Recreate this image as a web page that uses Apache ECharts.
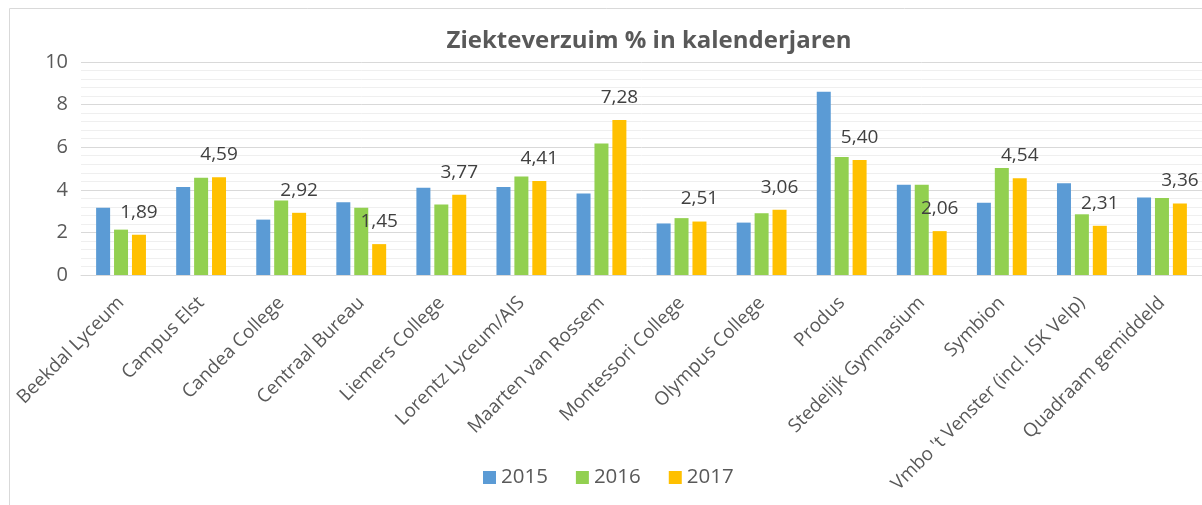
<!DOCTYPE html>
<html>
<head>
<meta charset="utf-8">
<script src="https://cdn.jsdelivr.net/npm/echarts@6/dist/echarts.min.js"></script>
<style>
	html, body { margin: 0; padding: 0; background: #fff; overflow: hidden; }
	#chartmain { width: 1202px; height: 505px; }
</style>
</head>
<body>
<div id="chartmain"></div>
<script>
var scholen = ['Beekdal Lyceum', 'Campus Elst', 'Candea College', 'Centraal Bureau', 'Liemers College',
	'Lorentz Lyceum/AIS', 'Maarten van Rossem', 'Montessori College', 'Olympus College', 'Produs',
	'Stedelijk Gymnasium', 'Symbion', "Vmbo 't Venster (incl. ISK Velp)", 'Quadraam gemiddeld'];
var jaar2015 = [3.16, 4.13, 2.60, 3.42, 4.10, 4.13, 3.83, 2.42, 2.46, 8.60, 4.24, 3.39, 4.31, 3.64];
var jaar2016 = [2.13, 4.57, 3.50, 3.16, 3.31, 4.63, 6.17, 2.67, 2.90, 5.54, 4.24, 5.02, 2.85, 3.62];
var jaar2017 = [1.89, 4.59, 2.92, 1.45, 3.77, 4.41, 7.28, 2.51, 3.06, 5.40, 2.06, 4.54, 2.31, 3.36];
var yTicks = [0, 2, 4, 6, 8, 10];

var font = 'Open Sans';
var grijs = '#595959';

var serie = function(naam, data, kleur, labels) {
	return {
		name : naam,
		type : 'bar',
		data : data,
		barWidth : 14,
		barGap : '28%',
		itemStyle : { color : kleur },
		label : {
			show : labels,
			position : 'top',
			distance : 13,
			fontFamily : font,
			fontSize : 19,
			color : '#404040',
			formatter : function(p) { return p.value.toFixed(2).replace('.', ','); }
		}
	};
};

var option = {
	animation : false,
	title : {
		text : 'Ziekteverzuim % in kalenderjaren',
		left : 644,
		top : 24,
		textAlign : 'center',
		textStyle : { fontFamily : font, fontSize : 24, fontWeight : 'bold', color : grijs }
	},
	legend : {
		left : 478,
		top : 462,
		itemWidth : 13,
		itemHeight : 13,
		itemGap : 28,
		icon : 'rect',
		textStyle : { fontFamily : font, fontSize : 20.5, color : grijs }
	},
	grid : {
		left : 81,
		top : 62,
		width : 1135,
		height : 213
	},
	xAxis : {
		type : 'category',
		data : scholen,
		axisLine : { lineStyle : { color : '#d9d9d9', width : 1 } },
		axisTick : { show : false },
		axisLabel : {
			interval : 0,
			rotate : 45,
			margin : 25,
			fontFamily : font,
			fontSize : 18.8,
			color : grijs
		}
	},
	yAxis : {
		type : 'value',
		min : yTicks[0],
		max : yTicks[yTicks.length - 1],
		interval : 2,
		axisLine : { show : false },
		axisTick : { show : false },
		axisLabel : { fontFamily : font, fontSize : 20, color : grijs, margin : 13 },
		splitLine : { lineStyle : { color : '#d9d9d9', width : 1 } },
		minorTick : { show : false, splitNumber : 5 },
		minorSplitLine : { show : true, lineStyle : { color : '#efefef', width : 1 } }
	},
	graphic : [ {
		type : 'rect',
		shape : { x : 9.5, y : 8.5, width : 1230, height : 520 },
		style : { fill : null, stroke : '#d9d9d9', lineWidth : 1 },
		silent : true
	} ],
	series : [
		serie('2015', jaar2015, '#5b9bd5', false),
		serie('2016', jaar2016, '#92d050', false),
		serie('2017', jaar2017, '#ffc000', true)
	]
};
var myChart = echarts.init(document.getElementById('chartmain'));
myChart.setOption(option);
</script>
</body>
</html>
